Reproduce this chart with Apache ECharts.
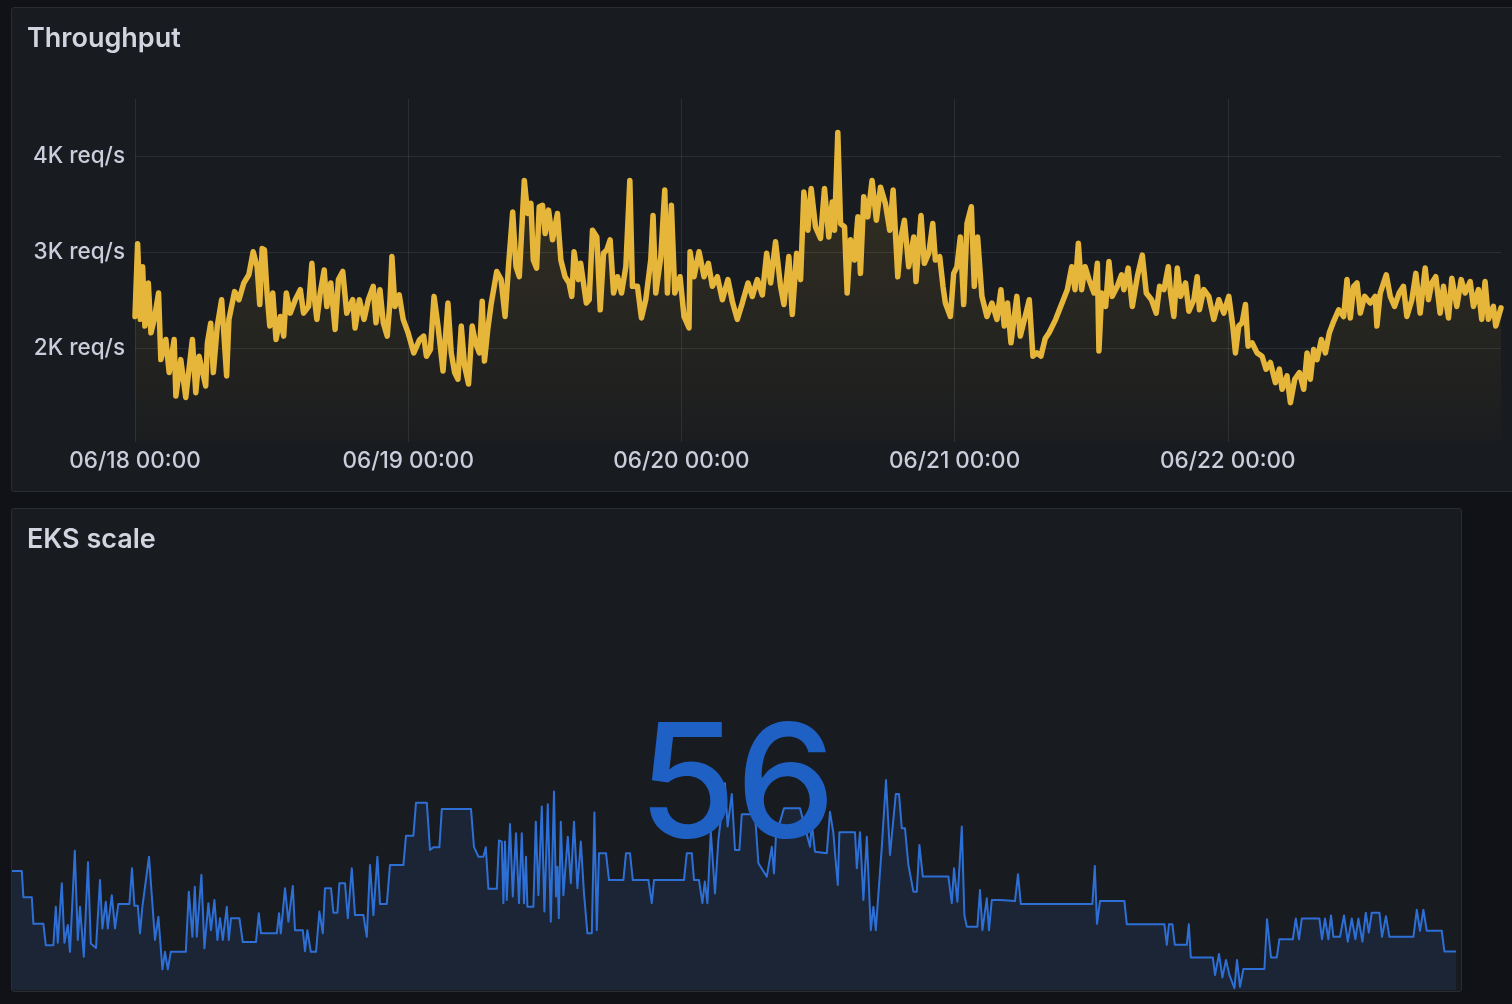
<!DOCTYPE html>
<html><head><meta charset="utf-8">
<script src="https://cdn.jsdelivr.net/npm/echarts@6/dist/echarts.min.js"></script>
<style>
html,body{margin:0;padding:0;background:#111217;width:1512px;height:1004px;overflow:hidden;}
.panel{position:absolute;background:#181b1f;border:1px solid #2a2c31;border-radius:3px;box-sizing:border-box;}
#p1{left:11px;top:7px;width:1530px;height:485px;}
#p2{left:11px;top:508px;width:1451px;height:484px;}
#chart{position:absolute;left:0;top:0;width:1512px;height:1004px;}
</style></head><body>
<div class="panel" id="p1"></div><div class="panel" id="p2"></div>
<div id="chart"></div>
<script>
// Throughput: [hours since 06/18 00:00, req/s]
const throughputDay1 = [[0,2330],[0.23,3090],[0.47,2300],[0.67,2850],[0.87,2230],[1.17,2680],[1.40,2160],[1.69,2300],[2.07,2575],[2.27,1880],[2.71,2090],[3.00,1745],[3.44,2090],[3.59,1500],[4.02,1880],[4.46,1485],[5.04,2090],[5.34,1535],[5.63,1915],[6.21,1605],[6.36,2055],[6.65,2260],[6.88,1745],[7.23,2230],[7.61,2505],[8.05,1710],[8.25,2300],[8.75,2590],[9.13,2505],[9.56,2680],[10.0,2765],[10.38,3005],[10.73,2850],[10.96,2455],[11.17,3040],[11.37,3025],[11.60,2575],[11.84,2230],[12.10,2575],[12.39,2090],[12.77,2330],[13.06,2125],[13.29,2575],[13.64,2365],[14.08,2505],[14.52,2610],[14.81,2365],[15.25,2435],[15.54,2885],[15.74,2540],[15.98,2300],[16.27,2575],[16.62,2815],[16.85,2435],[17.20,2680],[17.58,2195],[17.87,2715],[18.25,2800],[18.60,2365],[19.13,2505],[19.33,2210],[19.71,2505],[20.12,2300],[20.50,2505],[20.93,2645],[21.17,2265],[21.52,2610],[21.81,2265],[22.16,2125],[22.39,2470],[22.57,2955],[22.83,2435],[23.21,2555],[23.56,2300],[23.99,2160]];
const throughputDay2 = [[24.49,1950],[25.01,2090],[25.36,2125],[25.60,1915],[25.95,1985],[26.27,2540],[26.62,2230],[27.06,1760],[27.49,2470],[27.78,1950],[28.08,1745],[28.37,1675],[28.66,2230],[28.95,1815],[29.30,1625],[29.62,2230],[29.91,2055],[30.26,1950],[30.50,2490],[30.70,1865],[30.99,2195],[31.28,2455],[31.78,2800],[32.16,2715],[32.51,2330],[32.83,2885],[33.18,3420],[33.47,2850],[33.76,2745],[34.20,3750],[34.49,3405],[34.78,3510],[34.99,2920],[35.28,2835],[35.51,3475],[35.80,3490],[36.03,3195],[36.33,3440],[36.68,3130],[37.11,3405],[37.41,2920],[37.78,2745],[38.13,2680],[38.37,2540],[38.57,3005],[38.95,2715],[39.15,2885],[39.65,2470],[39.90,2505],[40.19,3230],[40.57,3160],[40.87,2400],[41.16,2990],[41.45,3025],[41.74,3130],[42.04,2575],[42.39,2745],[42.74,2575],[43.12,2850],[43.47,3750],[43.70,2645],[44.14,2645],[44.49,2315],[44.87,2505],[45.31,2920],[45.51,3385],[45.75,2575],[46.19,2955],[46.54,3650],[46.77,2575],[47.12,3490],[47.42,2575],[47.88,2745]];
const throughputDay3 = [[48.23,2330],[48.67,2210],[48.76,3005],[49.11,2745],[49.55,3005],[49.99,2745],[50.37,2885],[50.72,2645],[51.16,2745],[51.60,2505],[52.09,2715],[52.47,2490],[52.91,2300],[53.35,2470],[53.85,2680],[54.23,2540],[54.67,2715],[55.11,2555],[55.49,2990],[55.84,2680],[56.27,3110],[56.71,2645],[57.01,2455],[57.44,2955],[57.74,2350],[58.12,2990],[58.47,2715],[58.76,3630],[59.11,3230],[59.40,3665],[59.78,3265],[60.22,3145],[60.57,3665],[60.95,3160],[61.25,3525],[61.45,3230],[61.74,4250],[61.98,3300],[62.33,3265],[62.56,2575],[62.85,3130],[63.20,2920],[63.50,3370],[63.73,2780],[64.02,3580],[64.37,3370],[64.75,3750],[65.13,3335],[65.49,3680],[65.92,3510],[66.30,3230],[66.60,3650],[67.01,2745],[67.30,3160],[67.59,3335],[67.97,2850],[68.41,3160],[68.61,2695],[69.05,3385],[69.34,2885],[69.73,2990],[70.08,3300],[70.31,2920],[70.69,2955],[70.98,2645],[71.19,2470],[71.63,2330],[71.92,2780]];
const throughputDay4 = [[72.21,2850],[72.50,3160],[72.80,2455],[73.09,3300],[73.47,3475],[73.73,2645],[74.02,3160],[74.40,2540],[74.84,2330],[75.28,2470],[75.72,2300],[76.07,2610],[76.36,2230],[76.65,2470],[76.95,2055],[77.47,2540],[77.77,2125],[78.20,2330],[78.56,2505],[78.88,1915],[79.23,1950],[79.58,1915],[79.96,2100],[80.30,2160],[80.88,2300],[81.32,2435],[81.90,2610],[82.29,2850],[82.58,2610],[82.87,3095],[83.16,2610],[83.46,2850],[83.81,2715],[84.25,2575],[84.54,2885],[84.68,1970],[84.92,2575],[85.27,2435],[85.56,2905],[85.85,2540],[86.29,2645],[86.67,2765],[86.87,2610],[87.25,2835],[87.61,2435],[88.05,2745],[88.49,2970],[88.84,2575],[89.30,2505],[89.71,2365],[90.01,2645],[90.39,2610],[90.77,2850],[90.97,2575],[91.26,2330],[91.56,2835],[91.85,2540],[92.29,2680],[92.58,2385],[93.02,2505],[93.31,2745],[93.51,2400],[93.89,2610],[94.33,2540],[94.77,2300],[95.21,2505],[95.65,2365]];
const throughputDay5 = [[96.09,2540],[96.44,2230],[96.67,1950],[96.96,2230],[97.26,2265],[97.55,2455],[97.78,2020],[98.13,2055],[98.57,1950],[99.01,1915],[99.36,1780],[99.74,1850],[100.18,1640],[100.53,1780],[100.77,1570],[101.20,1710],[101.50,1430],[101.88,1675],[102.29,1745],[102.67,1570],[102.96,1950],[103.25,1675],[103.54,1985],[103.84,1880],[104.22,2090],[104.57,1950],[104.92,2160],[105.30,2280],[105.74,2400],[106.18,2330],[106.47,2715],[106.76,2315],[107.06,2645],[107.35,2680],[107.64,2365],[108.02,2540],[108.51,2470],[108.95,2540],[109.10,2230],[109.39,2575],[109.92,2765],[110.27,2540],[110.65,2435],[111.05,2575],[111.43,2645],[111.73,2330],[112.17,2505],[112.52,2780],[112.90,2365],[113.34,2835],[113.63,2505],[113.92,2680],[114.27,2745],[114.65,2365],[114.95,2645],[115.39,2315],[115.68,2730],[116.12,2435],[116.50,2715],[116.85,2575],[117.29,2695],[117.58,2435],[118.02,2610],[118.31,2300],[118.60,2695],[118.89,2300],[119.33,2435],[119.54,2230],[120,2420]];

// EKS scale: [minutes since 06/18 00:00, nodes]
const eksPart1 = [[0,79.0],[49,79.0],[57,71.5],[99,71.5],[107,63.9],[157,63.9],[169,57.8],[207,57.8],[219,68.8],[229,58.5],[249,75.5],[262,58.5],[279,63.6],[290,55.9],[299,55.9],[314,84.8],[329,59.3],[340,68.8],[359,54.5],[380,81.5],[394,58.3],[420,57.0],[440,76.4],[452,62.6],[469,70.2],[479,62.6],[499,72.1],[515,62.6],[532,69.6],[587,69.6],[600,79.8],[612,69.1],[629,69.1],[640,61.2],[652,68.8],[685,83.1],[715,59.3],[732,65.9],[752,50.9],[765,55.9],[779,50.9],[794,55.9],[869,55.9],[884,73.1],[902,60.2],[914,74.5],[924,60.2],[947,77.9],[962,56.9],[982,69.8],[995,62.1],[1012,70.7],[1027,59.3],[1040,65.5],[1054,59.3],[1074,68.8],[1084,59.3],[1095,65.5],[1137,65.5],[1154,58.7],[1220,58.7],[1234,66.9],[1245,61.2],[1324,61.2],[1335,66.9],[1344,61.2],[1365,74.1],[1382,64.5],[1404,74.7],[1415,62.1],[1454,62.1],[1465,56.1],[1477,62.1],[1494,55.9],[1520,55.9],[1537,67.4],[1554,61.2],[1565,74.1],[1595,74.1],[1607,67.1],[1627,67.1],[1637,75.5],[1665,75.5],[1679,65.5],[1699,79.8],[1715,66.4],[1757,66.4],[1774,60.2],[1790,80.7],[1807,66.4],[1827,83.1],[1840,69.6],[1874,69.6],[1890,80.7],[1957,80.7],[1970,89.1],[2007,89.1],[2020,98.5],[2074,98.5],[2090,85.0],[2107,85.8],[2137,85.8],[2149,96.7],[2295,96.7],[2310,85.8],[2332,83.1],[2357,83.1],[2369,85.8],[2382,73.9],[2424,73.9],[2435,87.7]];
const eksPart2 = [[2449,87.4],[2457,69.8],[2465,87.4],[2474,70.7],[2490,92.4],[2504,71.7],[2520,89.8],[2535,69.8],[2549,89.8],[2560,69.8],[2570,83.1],[2577,68.8],[2607,68.8],[2619,93.1],[2632,72.1],[2649,97.4],[2662,67.4],[2679,98.1],[2694,64.5],[2710,101.7],[2720,71.7],[2727,80.2],[2734,65.5],[2744,93.1],[2757,72.1],[2779,88.8],[2794,75.5],[2810,93.1],[2827,74.1],[2844,87.4],[2860,72.6],[2877,61.2],[2899,61.2],[2912,95.7],[2924,62.1],[2935,84.1],[2970,84.1],[2985,76.4],[3057,76.4],[3070,84.1],[3090,84.1],[3104,76.4],[3182,76.4],[3199,69.8],[3210,76.4],[3360,76.4],[3374,84.1],[3399,84.1],[3410,76.4],[3435,76.4],[3452,69.8],[3464,76.0],[3477,69.8],[3494,90.2],[3515,72.6],[3532,87.9],[3565,104.1],[3578,91.7],[3599,101.0],[3615,85.0],[3637,85.0],[3649,95.2],[3715,95.2],[3732,81.2],[3774,77.4],[3799,85.9],[3810,78.3],[3820,89.3],[3860,96.9],[3940,96.9],[3990,85.9],[3999,92.6],[4015,84.5],[4074,84.1],[4090,95.9],[4107,89.8],[4115,84.1],[4124,84.1],[4129,75.0],[4137,90.1],[4215,90.1],[4224,79.8],[4240,90.1],[4257,70.7],[4274,88.8],[4294,62.1],[4307,68.8],[4319,62.1],[4349,85.9],[4370,105.0],[4390,83.6],[4419,101.0],[4435,101.0],[4449,91.2],[4465,91.2],[4482,80.7],[4507,73.1],[4524,73.1],[4537,86.4],[4554,77.4],[4682,77.4],[4699,69.8],[4710,79.8],[4727,70.2],[4749,91.7],[4762,66.4],[4774,63.1],[4827,63.1],[4840,73.6],[4852,62.1],[4874,71.2],[4885,62.1],[4899,70.7],[4940,70.7]];
const eksPart3 = [[5015,70.4],[5030,78.1],[5044,69.6],[5402,69.6],[5414,80.4],[5425,63.9],[5440,70.4],[5562,70.4],[5574,63.8],[5762,63.8],[5774,57.9],[5785,63.8],[5802,63.8],[5814,57.9],[5874,57.9],[5884,63.8],[5894,54.3],[6004,54.3],[6015,49.3],[6035,55.3],[6052,48.6],[6070,53.6],[6087,49.3],[6112,45.5],[6125,53.6],[6140,45.9],[6157,51.0],[6262,51.0],[6275,65.2],[6295,54.3],[6324,54.3],[6337,59.5],[6404,59.5],[6419,65.4],[6435,59.5],[6449,65.4],[6537,65.4],[6550,59.5],[6565,65.4],[6582,59.5],[6595,66.3],[6607,60.2],[6640,60.2],[6660,66.3],[6679,58.8],[6699,65.4],[6717,59.5],[6732,65.4],[6752,58.8],[6769,67.1],[6784,61.4],[6799,67.1],[6837,67.1],[6850,60.2],[6870,66.1],[6887,60.2],[7007,60.2],[7024,67.9],[7040,61.9],[7057,67.9],[7074,61.9],[7149,61.9],[7162,56],[7220,56]];

const dayTicks = [0, 24, 48, 72, 96];
const dayLabels = ['06/18 00:00', '06/19 00:00', '06/20 00:00', '06/21 00:00', '06/22 00:00'];
const yTicks = [2000, 3000, 4000];

const throughput = [].concat(throughputDay1, throughputDay2, throughputDay3, throughputDay4, throughputDay5);
const eks = [].concat(eksPart1, eksPart2, eksPart3);
const lastEks = eks[eks.length - 1][1];

const textColor = '#ccccdc';
const gridColor = 'rgba(204,204,220,0.11)';
const font = 'Inter, "Noto Sans", sans-serif';

const chart = echarts.init(document.getElementById('chart'), null, {renderer: 'canvas'});
chart.setOption({
  animation: false,
  backgroundColor: 'transparent',
  title: [
    {text: 'Throughput', left: 27, top: 25, padding: 0, textStyle: {color: '#d4d4e0', fontSize: 27, fontWeight: 600, fontFamily: font}},
    {text: 'EKS scale', left: 27, top: 526, padding: 0, textStyle: {color: '#d4d4e0', fontSize: 27, fontWeight: 600, fontFamily: font}}
  ],
  grid: [
    {left: 135, top: 99, width: 1366, height: 343, outerBoundsMode: 'none'},
    {left: 12, top: 759, width: 1444, height: 231, outerBoundsMode: 'none'}
  ],
  xAxis: [
    {type: 'value', gridIndex: 0, min: 0, max: 120,
     axisLine: {show: false},
     axisTick: {show: false, customValues: dayTicks},
     axisLabel: {customValues: dayTicks, color: textColor, fontSize: 22.5, fontWeight: 500, fontFamily: font, margin: 8,
       formatter: v => dayLabels[dayTicks.indexOf(v)] || ''},
     splitLine: {show: true, lineStyle: {color: gridColor, width: 1}}},
    {type: 'value', gridIndex: 1, min: 0, max: 7220, show: false, splitLine: {show: false}}
  ],
  yAxis: [
    {type: 'value', gridIndex: 0, min: 1020, max: 4600,
     axisLine: {show: false},
     axisTick: {show: false, customValues: yTicks},
     axisLabel: {customValues: yTicks, color: textColor, fontSize: 22.5, fontWeight: 500, fontFamily: font, margin: 10,
       formatter: v => (v / 1000) + 'K req/s'},
     splitLine: {show: true, lineStyle: {color: gridColor, width: 1}}},
    {type: 'value', gridIndex: 1, min: 45, max: 111, show: false, splitLine: {show: false}}
  ],
  series: [
    {type: 'line', xAxisIndex: 0, yAxisIndex: 0, data: throughput, showSymbol: false, symbol: 'none',
     lineStyle: {color: '#E6B63A', width: 5.5, join: 'round', cap: 'round'},
     itemStyle: {color: '#E6B63A'},
     areaStyle: {color: new echarts.graphic.LinearGradient(0, 0, 0, 1, [
       {offset: 0, color: 'rgba(234,184,57,0.22)'},
       {offset: 1, color: 'rgba(234,184,57,0.02)'}])}},
    {type: 'line', xAxisIndex: 1, yAxisIndex: 1, data: eks, showSymbol: false, symbol: 'none',
     lineStyle: {color: '#2E6FD6', width: 2, join: 'round'},
     itemStyle: {color: '#2E6FD6'},
     areaStyle: {color: 'rgba(50,116,217,0.17)'}}
  ],
  graphic: [
    {type: 'text', x: 737, y: 789, z: 100,
     style: {text: String(Math.round(lastEks)), fill: '#1F60C4', font: '500 158px Inter, "Noto Sans", sans-serif',
       align: 'center', verticalAlign: 'middle'}}
  ]
});
</script></body></html>
